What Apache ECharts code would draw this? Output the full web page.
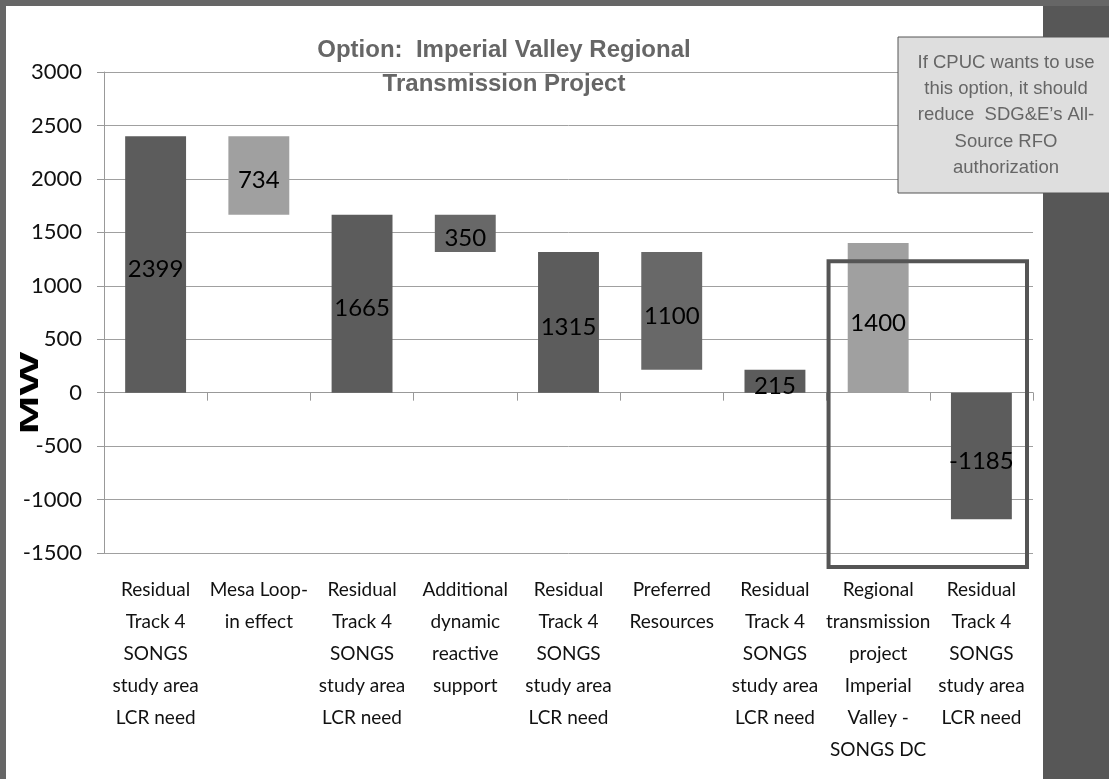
<!DOCTYPE html>
<html>
<head>
<meta charset="utf-8">
<script src="https://cdn.jsdelivr.net/npm/echarts@6/dist/echarts.min.js"></script>
<style>
  html, body { margin: 0; padding: 0; background: #fff; }
  #chart { width: 1109px; height: 779px; }
</style>
</head>
<body>
<div id="chart"></div>
<script>
// categories along the x axis
const categories = [
  'Residual\nTrack 4\nSONGS\nstudy area\nLCR need',
  'Mesa Loop-\nin effect',
  'Residual\nTrack 4\nSONGS\nstudy area\nLCR need',
  'Additional\ndynamic\nreactive\nsupport',
  'Residual\nTrack 4\nSONGS\nstudy area\nLCR need',
  'Preferred\nResources',
  'Residual\nTrack 4\nSONGS\nstudy area\nLCR need',
  'Regional\ntransmission\nproject\nImperial\nValley -\nSONGS DC',
  'Residual\nTrack 4\nSONGS\nstudy area\nLCR need'
]
// invisible base of each floating bar (MW)
const baseValues = [0, 1665, 0, 1315, 0, 215, 0, 0, 0]
// visible bar size (MW)
const stepValues = [2399, 734, 1665, 350, 1315, 1100, 215, 1400, -1185]
// y axis ticks
const yTicks = [-1500, -1000, -500, 0, 500, 1000, 1500, 2000, 2500, 3000]
// highlighted option box, in MW on the value axis
const boxRange = [1230, -1630]
const noteLines = [
  'If CPUC wants to use',
  'this option, it should',
  'reduce  SDG&E\u2019s All-',
  'Source RFO',
  'authorization'
]

const narrow = "Lato, 'Liberation Sans', sans-serif"
const arial = "'Liberation Sans', Arial, sans-serif"
const shades = ['#5c5c5c', '#a0a0a0', '#5c5c5c', '#686868', '#5c5c5c', '#686868', '#5c5c5c', '#a0a0a0', '#5c5c5c']

const chart = echarts.init(document.getElementById('chart'))

const option = {
  backgroundColor: '#fff',
  animation: false,
  title: {
    text: 'Option:  Imperial Valley Regional\nTransmission Project',
    left: 499,
    top: 28,
    textAlign: 'center',
    textStyle: {
      fontFamily: arial,
      fontWeight: 'bold',
      fontSize: 24,
      lineHeight: 34,
      color: '#666'
    }
  },
  grid: {
    left: 104,
    right: 76,
    top: 72,
    bottom: 226
  },
  xAxis: [
    {
      type: 'category',
      data: categories,
      axisLine: { onZero: true, lineStyle: { color: '#999', width: 1 } },
      axisTick: { show: true, length: 8, lineStyle: { color: '#999' } },
      axisLabel: { show: false }
    },
    {
      type: 'category',
      data: categories,
      position: 'bottom',
      axisLine: { show: false, onZero: false },
      axisTick: { show: false },
      axisLabel: {
        interval: 0,
        margin: 21,
        fontFamily: narrow,
        fontSize: 19,
        lineHeight: 32,
        color: '#111'
      }
    }
  ],
  yAxis: {
    type: 'value',
    min: yTicks[0],
    max: yTicks[yTicks.length - 1],
    interval: 500,
    axisLine: { show: true, lineStyle: { color: '#999' } },
    axisTick: { show: true, length: 7, lineStyle: { color: '#999' } },
    axisLabel: {
      margin: 22,
      fontFamily: narrow,
      fontSize: 22,
      color: '#111',
      formatter: v => String(v)
    },
    splitLine: { lineStyle: { color: '#a0a0a0', width: 1 } }
  },
  series: [
    {
      name: 'base',
      type: 'bar',
      stack: 'fall',
      barWidth: '59%',
      itemStyle: { color: 'transparent' },
      emphasis: { disabled: true },
      data: baseValues
    },
    {
      name: 'MW',
      type: 'bar',
      stack: 'fall',
      barWidth: '59%',
      data: stepValues.map((v, i) => ({ value: v, itemStyle: { color: shades[i] } })),
      label: {
        show: true,
        position: 'inside',
        offset: [0, 5],
        fontFamily: narrow,
        fontSize: 24,
        color: '#000'
      }
    }
  ]
}
chart.setOption(option)

function drawExtras() {
  const c0 = chart.convertToPixel({ xAxisIndex: 0 }, 7)
  const c1 = chart.convertToPixel({ xAxisIndex: 0 }, 8)
  const band = c1 - c0
  const yTop = chart.convertToPixel({ yAxisIndex: 0 }, boxRange[0])
  const yBot = chart.convertToPixel({ yAxisIndex: 0 }, boxRange[1])

  const noteText = noteLines.map((t, i) => ({
    type: 'text',
    x: 1006,
    y: 63 + i * 26.2,
    z: 21,
    style: {
      text: t,
      fontFamily: arial,
      fontSize: 18.5,
      fill: '#666',
      align: 'center',
      verticalAlign: 'middle'
    }
  }))

  chart.setOption({
    graphic: [
      { type: 'rect', shape: { x: 1043, y: 0, width: 66, height: 779 }, style: { fill: '#575757' } },
      { type: 'rect', shape: { x: 0, y: 0, width: 6, height: 779 }, style: { fill: '#666' } },
      { type: 'rect', shape: { x: 0, y: 0, width: 1109, height: 6 }, style: { fill: '#666' } },
      {
        type: 'rect',
        shape: { x: c0 - band / 2 + 2, y: yTop, width: band * 2 - 8, height: yBot - yTop },
        style: { fill: 'none', stroke: '#555', lineWidth: 4 },
        z: 10
      },
      {
        type: 'rect',
        shape: { x: 898, y: 37, width: 215, height: 156 },
        style: { fill: '#dedede', stroke: '#555', lineWidth: 1 },
        z: 20
      },
      ...noteText,
      {
        type: 'text',
        x: 31,
        y: 393,
        rotation: Math.PI / 2,
        scaleX: 1.5,
        scaleY: 0.85,
        style: {
          text: 'MW',
          fontFamily: arial,
          fontWeight: 'bold',
          fontSize: 31,
          fill: '#000',
          align: 'center',
          verticalAlign: 'middle'
        },
        z: 10
      }
    ]
  })
}
drawExtras()
</script>
</body>
</html>
